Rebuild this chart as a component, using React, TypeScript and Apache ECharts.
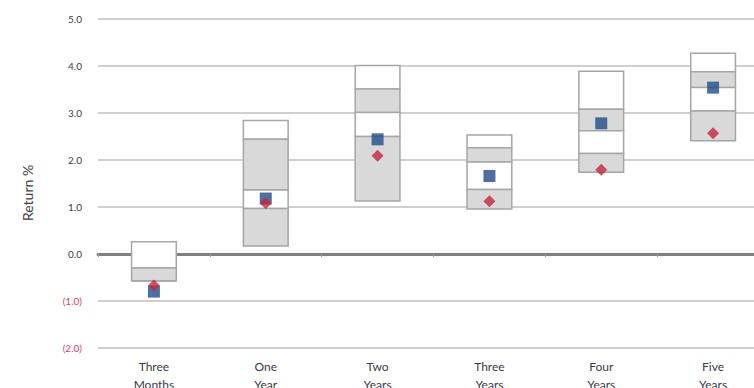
import React, { useEffect, useRef } from "react";
import * as echarts from "echarts";

const categories = ["Three\nMonths", "One\nYear", "Two\nYears", "Three\nYears", "Four\nYears", "Five\nYears"];
const p5 = [0.26, 2.84, 4.01, 2.53, 3.89, 4.27];
const p25 = [-0.3, 2.44, 3.51, 2.26, 3.08, 3.88];
const median = [-0.57, 1.36, 3.01, 1.96, 2.62, 3.54];
const p75 = [-0.57, 0.97, 2.5, 1.37, 2.14, 3.04];
const p95 = [-0.57, 0.17, 1.13, 0.96, 1.74, 2.41];
const fund = [-0.8, 1.18, 2.44, 1.66, 2.78, 3.54];
const benchmark = [-0.67, 1.08, 2.09, 1.12, 1.79, 2.57];

export default function App() {
  const ref = useRef<HTMLDivElement>(null);
  useEffect(() => {
    if (!ref.current) return;
    const chart = echarts.init(ref.current, null, { renderer: "svg" });
    const boxData = categories.map((_, i) => [i, p5[i], p25[i], median[i], p75[i], p95[i]]);
    const fills = ["#ffffff", "#d9d9d9", "#ffffff", "#d9d9d9"];
    chart.setOption({
      animation: false,
      grid: { left: 98, top: 19, width: 671, height: 329, containLabel: false, outerBoundsMode: "none" },
      xAxis: [
        {
          type: "category",
          data: categories,
          boundaryGap: true,
          axisLine: { show: false, onZero: false },
          axisTick: { show: false },
          axisLabel: {
            interval: 0,
            margin: 9,
            color: "#3a3a4a",
            fontFamily: "Lato",
            fontSize: 12,
            lineHeight: 18,
          },
          splitLine: { show: false },
        },
        {
          type: "category",
          data: categories,
          position: "bottom",
          boundaryGap: true,
          axisLine: { show: true, onZero: true, lineStyle: { color: "#7f7f7f", width: 3 } },
          axisTick: { show: true, length: 3, lineStyle: { color: "#a0a0a0", width: 1 } },
          axisLabel: { show: false },
          splitLine: { show: false },
        },
      ],
      yAxis: {
        type: "value",
        min: -2,
        max: 5,
        interval: 1,
        axisLine: { show: false },
        axisTick: { show: false },
        splitLine: { show: true, lineStyle: { color: "#cfcfcf", width: 2 } },
        axisLabel: {
          margin: 16,
          fontSize: 10,
          fontFamily: "Lato",
          color: (v: any) => (Number(v) < 0 ? "#e8405a" : "#404048"),
          formatter: (v: number) => (v < 0 ? `(${Math.abs(v).toFixed(1)})` : v.toFixed(1)),
        },
      },
      graphic: [
        {
          type: "text",
          x: 27,
          y: 193,
          rotation: Math.PI / 2,
          style: {
            text: "Return %",
            fill: "#404048",
            font: "14px Lato",
            align: "center",
            verticalAlign: "middle",
          },
        },
      ],
      series: [
        {
          type: "custom",
          xAxisIndex: 0,
          data: boxData,
          encode: { x: 0, y: [1, 2, 3, 4, 5] },
          renderItem: (params: any, api: any) => {
            const xi = api.value(0);
            const vals = [api.value(1), api.value(2), api.value(3), api.value(4), api.value(5)];
            const w = api.size([1, 0])[0] * 0.4;
            const children: any[] = [];
            for (let k = 0; k < 4; k++) {
              const top = api.coord([xi, vals[k]]);
              const bot = api.coord([xi, vals[k + 1]]);
              children.push({
                type: "rect",
                shape: { x: top[0] - w / 2, y: top[1], width: w, height: bot[1] - top[1] },
                style: { fill: fills[k], stroke: "#a6a6a6", lineWidth: 1.5 },
              });
            }
            return { type: "group", children };
          },
          z: 2,
        },
        {
          type: "scatter",
          xAxisIndex: 0,
          data: fund.map((v, i) => [i, v]),
          symbol: "rect",
          symbolSize: 12,
          itemStyle: { color: "#1f4e89" },
          z: 3,
        },
        {
          type: "scatter",
          xAxisIndex: 0,
          data: benchmark.map((v, i) => [i, v]),
          symbol: "diamond",
          symbolSize: [12, 12],
          itemStyle: { color: "#c1273d" },
          z: 4,
        },
      ],
    });
    return () => chart.dispose();
  }, []);
  return <div ref={ref} style={{ position: "absolute", left: 0, top: 0, width: 754, height: 388 }} />;
}
